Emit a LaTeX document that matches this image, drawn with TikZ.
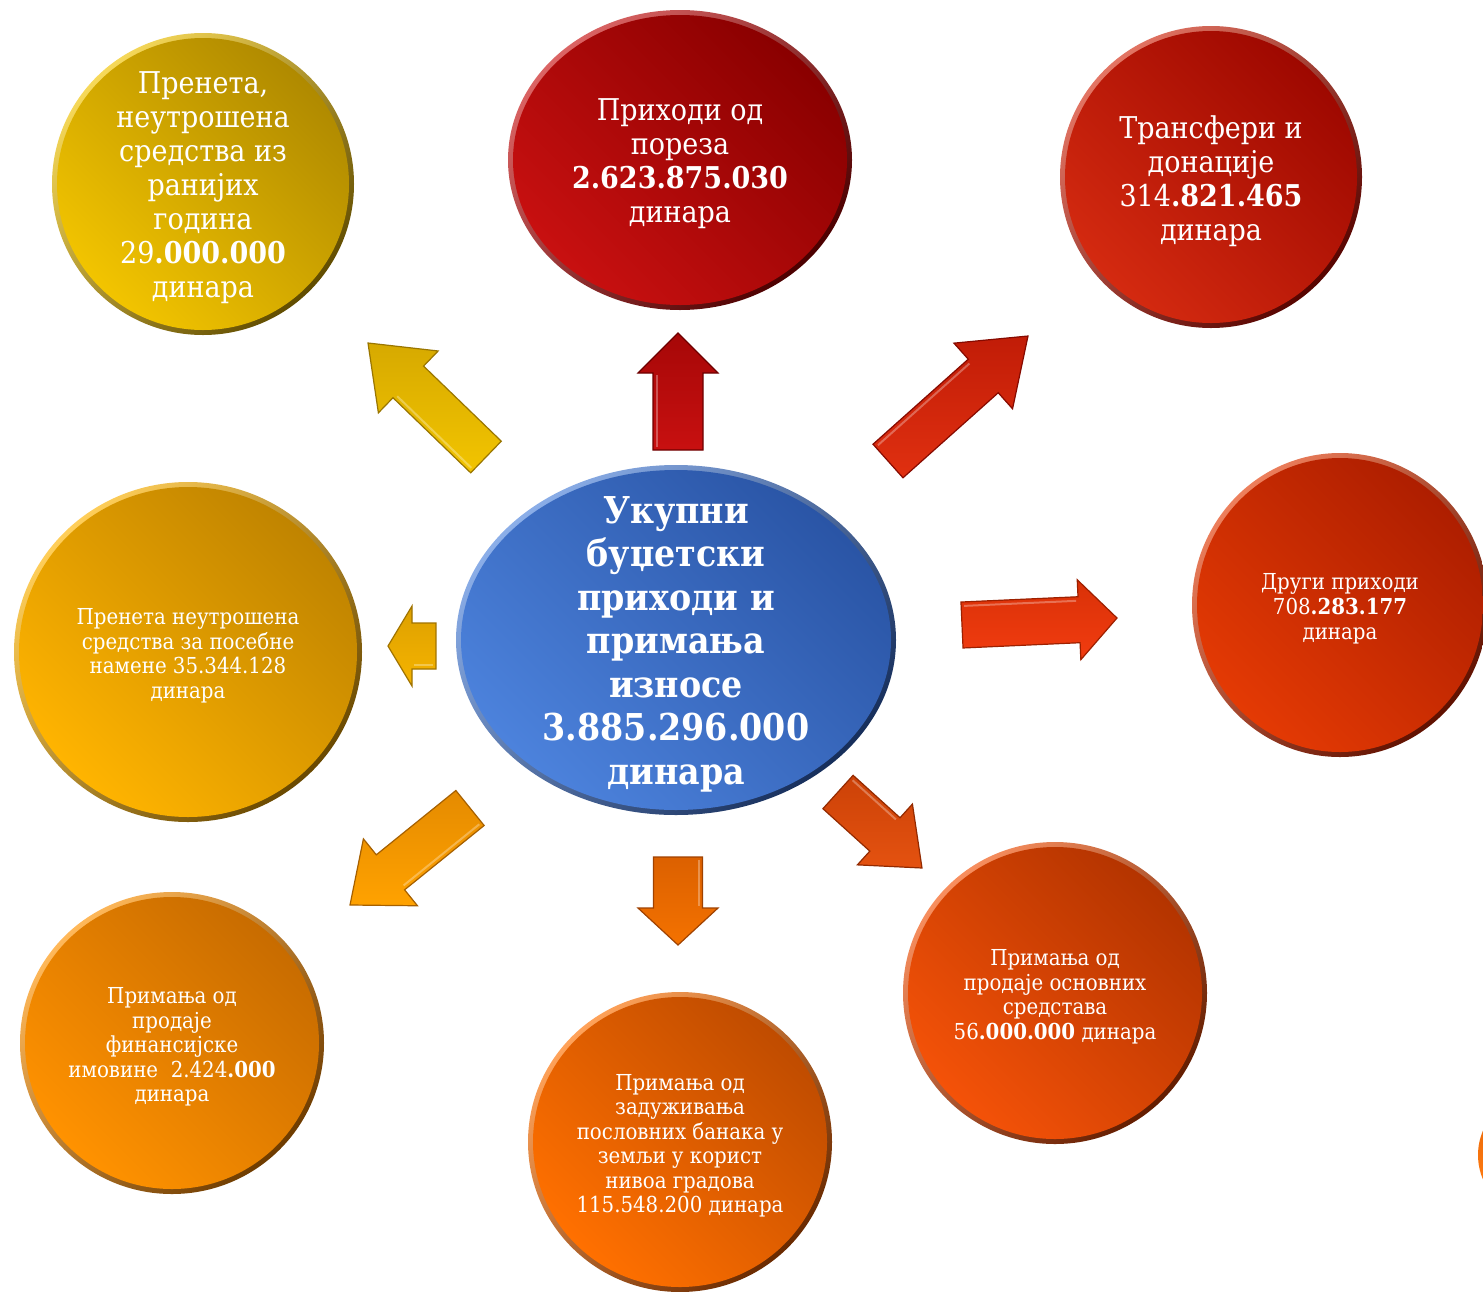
\documentclass[tikz,border=0pt]{standalone}
\usepackage{fontspec}
\setmainfont{DejaVu Serif Condensed}
\usetikzlibrary{shapes.geometric}
\tikzset{
  bubtext/.style={text=white, align=center, inner sep=0pt, yshift=-4pt},
}
\definecolor{partL}{HTML}{FF7A10}
\definecolor{partD}{HTML}{C85000}
% bubble: name, cx, cy, rx, ry, light, dark, font, text
\newcommand\bub[9]{%
  \definecolor{bbL}{HTML}{#6}\definecolor{bbD}{HTML}{#7}%
  \shade[top color=white!35!bbL, bottom color=bbD!55!black, shading angle=45]
    (#2,#3) ellipse [x radius=#4, y radius=#5];
  \pgfmathsetmacro\bw{2*#4-10}\pgfmathsetmacro\bh{2*#5-10}%
  \node[ellipse, minimum width=\bw pt, minimum height=\bh pt, inner sep=0pt,
        top color=bbD, bottom color=bbL, shading angle=-45] (#1-bg) at (#2,#3) {};
  \node[bubtext, font=#8] (#1) at (#2,#3) {#9};
}
% block arrow: x1,y1 (tail), x2,y2 (tip), shaft w, head w, head l, colour light, colour dark
\newcommand\barrow[9]{%
  \definecolor{arL}{HTML}{#8}\definecolor{arD}{HTML}{#9}%
  \pgfmathsetmacro\aang{atan2(-(#4-#2),#3-#1)}%
  \pgfmathsetmacro\alen{veclen(#3-#1,#4-#2)}%
  \pgfmathsetmacro\ab{\alen-#7}%
  \pgfmathsetmacro\aw{#5/2}\pgfmathsetmacro\ah{#6/2}%
  \begin{scope}[shift={(#1,#2)}, rotate=\aang]
    \shade[top color=arD!55!arL, bottom color=arL, draw=arD!80!black, line width=1.2pt, line join=miter]
      (0,-\aw) -- (\ab,-\aw) -- (\ab,-\ah) -- (\alen,0) -- (\ab,\ah) -- (\ab,\aw) -- (0,\aw) -- cycle;
    \draw[white, opacity=0.3, line width=2pt] (3,-\aw+4) -- (\ab-2,-\aw+4);
  \end{scope}
}
\begin{document}
\begin{tikzpicture}[x=1pt, y=-1pt]
\useasboundingbox (0,0) rectangle (1483,1291);
\fill[white] (0,0) rectangle (1483,1291);

% arrows
\barrow{486}{457}{368}{343}{44}{86}{56}{F2C400}{C09400}
\barrow{678}{450}{678}{333}{50}{80}{40}{C81010}{8A0000}
\barrow{888}{461}{1028}{336}{45}{88}{60}{E03010}{A80C00}
\barrow{962}{625}{1117}{618}{46}{80}{38}{F23C10}{C42800}
\barrow{436}{646}{388}{646}{46}{80}{24}{F6B400}{C89000}
\barrow{470}{808}{350}{905}{45}{86}{52}{FFA200}{D07800}
\barrow{678}{857}{678}{945}{49}{80}{37}{F47200}{C85200}
\barrow{838}{792}{922}{868}{45}{82}{50}{E45210}{B83400}

% partial bubble at right edge
\shade[top color=partD, bottom color=partL, shading angle=-45] (1540,1155) circle [radius=62];

% bubbles
\bub{tl}{203}{184}{151}{151}{F2C400}{B08A00}{\fontsize{30}{34}\selectfont}
  {Пренета,\\неутрошена\\средства из\\ранијих\\година\\29\textbf{.000.000}\\динара}
\bub{tm}{680}{160}{172}{150}{C81010}{8A0000}{\fontsize{30}{34}\selectfont}
  {Приходи од\\пореза\\\textbf{2.623.875.030}\\динара}
\bub{tr}{1211}{177}{151}{151}{D42A10}{9E0800}{\fontsize{30}{34}\selectfont}
  {Трансфери и\\донације\\314\textbf{.821.465}\\динара}
\bub{rt}{1340}{605}{148}{152}{E43A04}{AE1E00}{\fontsize{22}{25}\selectfont}
  {Други приходи\\708\textbf{.283.177}\\динара}
\bub{lf}{188}{652}{174}{170}{FFB400}{C08400}{\fontsize{22}{24.5}\selectfont}
  {Пренета неутрошена\\средства за посебне\\намене 35.344.128\\динара}
\bub{ctr}{676}{640}{220}{175}{4C82DC}{2A55A6}{\fontsize{37}{43.5}\selectfont\bfseries}
  {Укупни\\буџетски\\приходи и\\примања\\износе\\3.885.296.000\\динара}
\bub{bl}{172}{1043}{152}{151}{FF9200}{C86C00}{\fontsize{22}{24.5}\selectfont}
  {Примања од\\продаје\\финансијске\\имовине~~2.424\textbf{.000}\\динара}
\bub{bm}{680}{1142}{152}{150}{FF7000}{C04C00}{\fontsize{22}{24.5}\selectfont}
  {Примања од\\задуживања\\пословних банака у\\земљи у корист\\нивоа градова\\115.548.200 динара}
\bub{br}{1055}{993}{152}{151}{F45208}{B43400}{\fontsize{22}{24.5}\selectfont}
  {Примања од\\продаје основних\\средстава\\56\textbf{.000.000} динара}
\end{tikzpicture}
\end{document}
